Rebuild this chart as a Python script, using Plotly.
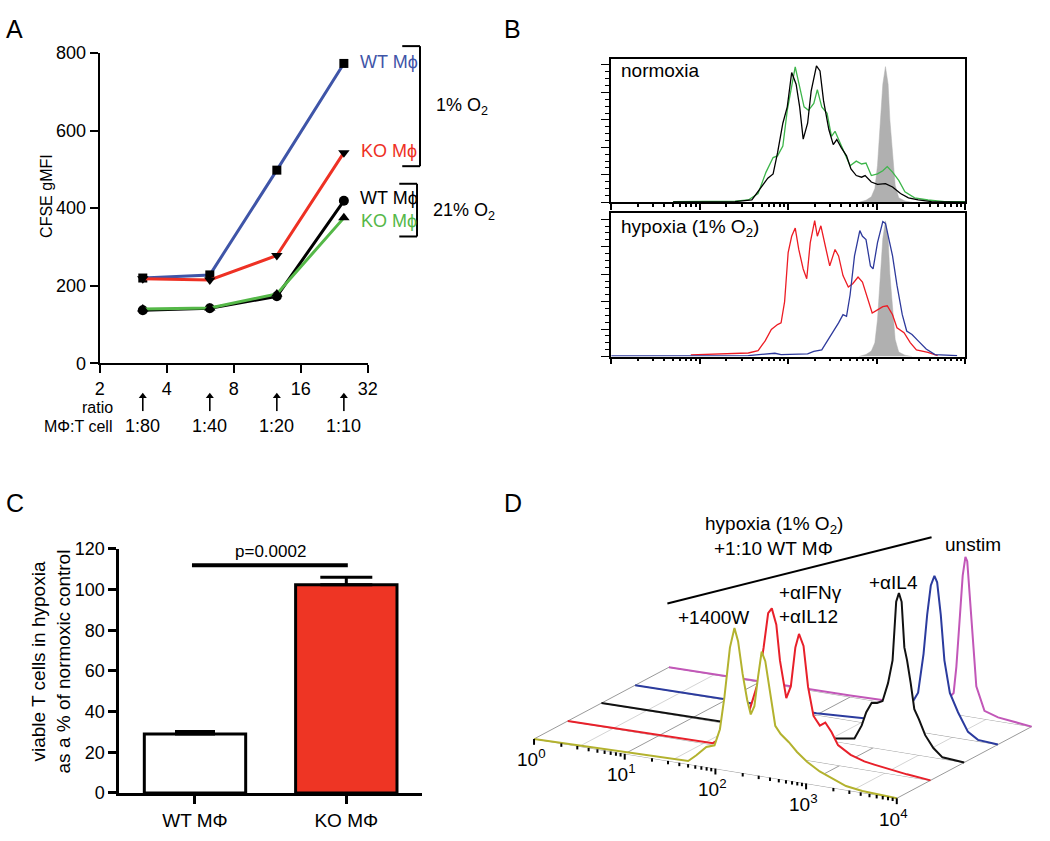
import numpy as np
import plotly.graph_objects as go

W, H = 1050, 841
FONT = "Arial, Liberation Sans, Helvetica, sans-serif"


def px(x):
    return x / W


def py(y):
    return 1 - y / H


# ---------------- Panel A data ----------------
a_ratio_x = [3.125, 6.25, 12.5, 25]
a_ratio_labels = ["1:80", "1:40", "1:20", "1:10"]
a_wt_hyp = [220, 228, 498, 773]
a_ko_hyp = [218, 215, 278, 543]
a_wt_norm = [137, 142, 173, 419]
a_ko_norm = [140, 143, 179, 375]
a_xticks = [2, 4, 8, 16, 32]
a_yticks = [0, 200, 400, 600, 800]

# ---------------- Panel B data (log10 fluorescence, % of max) ----------------
b_gray_x = [2.80, 2.88, 2.94, 2.98, 3.01, 3.04, 3.07, 3.10, 3.13, 3.15, 3.18, 3.21, 3.25, 3.32, 3.40]
b_gray_y = [0, 1.5, 4, 10, 27, 58, 86, 98.8, 86, 60, 34, 12.4, 3.3, 1, 0]

b_norm_black_x = [0.70, 1.40, 1.59, 1.70, 1.77, 1.83, 1.88, 1.94, 1.99, 2.04, 2.09, 2.13, 2.17, 2.22,
                  2.26, 2.32, 2.36, 2.40, 2.46, 2.51, 2.55, 2.60, 2.66, 2.71, 2.77, 2.83, 2.87, 2.94,
                  3.01, 3.10, 3.18, 3.27, 3.36, 3.47, 3.62, 4.0]
b_norm_black_y = [0.3, 0.5, 1.7, 11, 17.6, 20.7, 36, 57.6, 69.5, 94.5, 86, 69.5, 46, 57.6, 81, 99.3,
                  95.7, 74, 53, 42, 45.7, 39.8, 33.8, 24.3, 19.5, 18.3, 19.5, 14.8, 13, 13.6, 11.2,
                  6.4, 3.3, 1.7, 0.5, 0.2]

b_norm_green_x = [0.70, 1.40, 1.55, 1.66, 1.75, 1.83, 1.88, 1.94, 1.99, 2.04, 2.08, 2.12, 2.18, 2.23,
                  2.29, 2.33, 2.38, 2.44, 2.49, 2.53, 2.59, 2.64, 2.70, 2.77, 2.83, 2.88, 2.94, 3.01,
                  3.07, 3.12, 3.18, 3.25, 3.32, 3.43, 3.58, 3.77, 4.0]
b_norm_green_y = [0.4, 0.8, 1.7, 6.4, 22, 32.6, 33.8, 41, 67, 86, 98.6, 87, 69.5, 67, 72, 82, 69.5,
                  64.8, 48, 51.7, 43.3, 36, 26.7, 30, 27.9, 28.6, 19.5, 20.7, 23, 26, 22, 16, 7.6,
                  3.3, 1.7, 0.5, 0.4]

b_hyp_red_x = [0.90, 1.55, 1.66, 1.74, 1.81, 1.88, 1.92, 1.96, 2.00, 2.04, 2.08, 2.12, 2.17, 2.21,
               2.25, 2.30, 2.33, 2.37, 2.42, 2.47, 2.53, 2.57, 2.62, 2.68, 2.73, 2.79, 2.84, 2.90,
               2.95, 3.01, 3.07, 3.12, 3.18, 3.23, 3.31, 3.38, 3.45, 3.58, 3.69]
b_hyp_red_y = [1.2, 2.6, 4.3, 11.4, 19.8, 23.3, 24.5, 40, 75.7, 87.6, 93.6, 78, 63.8, 56.7, 82.9, 99,
               87.6, 95.2, 80.5, 66, 78, 73.3, 59, 50.7, 53, 57.9, 54.3, 42.4, 31.7, 34, 36.4, 37,
               30.5, 21, 17.4, 10.2, 4.8, 3.1, 0.7]

b_hyp_blue_x = [0.0, 1.55, 1.85, 1.92, 2.22, 2.29, 2.38, 2.47, 2.57, 2.62, 2.66, 2.70, 2.75, 2.81,
                2.84, 2.88, 2.93, 2.96, 3.01, 3.07, 3.10, 3.14, 3.18, 3.23, 3.29, 3.34, 3.40, 3.47,
                3.56, 3.66, 3.91]
b_hyp_blue_y = [0.5, 0.7, 2.4, 1.4, 1.9, 3.8, 4.8, 13.8, 24.5, 30.5, 29.3, 44.8, 73.3, 91.7, 87.6,
                85.2, 66, 63.8, 82.9, 98.3, 97, 85.2, 73.3, 52, 30.5, 18.6, 16, 11.4, 5.5, 1.4, 0.7]

# ---------------- Panel C data ----------------
c_categories = ["WT M\u03a6", "KO M\u03a6"]
c_values = [29, 102.4]
c_errors = [1.2, 3.6]
c_pvalue = "p=0.0002"
c_yticks = [0, 20, 40, 60, 80, 100, 120]

# ---------------- Panel D data (log10 fluorescence, relative count) ----------------
d_yellow_x = [0, 0.5, 1.0, 1.4, 1.70, 1.79, 1.90, 1.99, 2.05, 2.10, 2.16, 2.21, 2.25, 2.30, 2.35,
              2.39, 2.43, 2.47, 2.51, 2.55, 2.60, 2.66, 2.72, 2.81, 2.90, 3.01, 3.15, 3.30, 3.44,
              3.62, 4.0]
d_yellow_y = [0, 0.5, 1.0, 1.5, 2, 6.6, 12.9, 14.8, 25.7, 47, 79, 92, 84, 63.5, 47.4, 38.4, 44, 63,
              79.7, 74, 56, 33.7, 29, 24.6, 19.2, 14, 9.1, 5.4, 2.5, 1.1, 0]
d_red_x = [0, 1.0, 1.60, 1.75, 1.90, 2.00, 2.10, 2.16, 2.21, 2.25, 2.30, 2.34, 2.41, 2.46, 2.51,
           2.55, 2.60, 2.65, 2.71, 2.78, 2.84, 2.91, 2.98, 3.12, 3.27, 3.38, 3.74, 4.0]
d_red_y = [0, 0.5, 1.0, 8, 20, 25, 45, 67.6, 90, 93.5, 83.5, 61, 37.6, 45.5, 71, 80, 72.8, 47, 29,
           23.5, 26, 20.5, 12.9, 8, 5.2, 4.2, 1.4, 0]
d_black_x = [0, 1.0, 2.0, 2.58, 2.79, 2.87, 2.92, 2.98, 3.04, 3.10, 3.16, 3.21, 3.23, 3.25, 3.28,
             3.31, 3.34, 3.37, 3.41, 3.45, 3.50, 3.57, 3.66, 3.76, 4.0]
d_black_y = [0, 0.5, 1.0, 1.9, 3.9, 13, 21.9, 28.6, 29, 30.8, 42.8, 57.8, 74.7, 95.8, 101.6, 96.3,
             67.4, 59.4, 45.2, 28.9, 23, 13.4, 6, 1, 0]
d_blue_x = [0, 1.0, 2.0, 2.6, 2.8, 2.95, 3.07, 3.12, 3.18, 3.22, 3.26, 3.30, 3.33, 3.37, 3.41, 3.47,
            3.56, 3.67, 3.78, 4.0]
d_blue_y = [0, 0.5, 1.0, 3, 6, 12, 19.5, 24.8, 50.3, 75.7, 94.8, 101.4, 97.5, 77, 48.3, 28, 16.5,
            5, 0.9, 0]
d_magenta_x = [0, 1.0, 2.0, 2.8, 3.02, 3.14, 3.17, 3.21, 3.24, 3.27, 3.29, 3.32, 3.36, 3.39, 3.48,
               3.63, 4.0]
d_magenta_y = [0, 0.5, 1, 2, 5, 13.4, 30.4, 64, 89.4, 101.7, 99.2, 75.5, 44.6, 20, 5.2, 2.4, 0]
d_tick_labels = ["10<sup>0</sup>", "10<sup>1</sup>", "10<sup>2</sup>", "10<sup>3</sup>", "10<sup>4</sup>"]

# ---------------- colours ----------------
BLUE_A = "#3f55a8"
RED_A = "#ee3124"
GREEN_A = "#55b848"
GRAY_FILL = "#b0b0b0"

fig = go.Figure()

# ======================= Panel A =======================
series_a = [
    (a_wt_hyp, BLUE_A, "square", 9),
    (a_ko_hyp, RED_A, "triangle-down", 10),
    (a_wt_norm, "black", "circle", 10),
    (a_ko_norm, GREEN_A, "triangle-up", 10),
]
for vals, col, sym, sz in series_a:
    fig.add_trace(go.Scatter(x=a_ratio_x, y=vals, mode="lines+markers", xaxis="x", yaxis="y",
                             line=dict(color=col, width=3),
                             marker=dict(symbol=sym, size=sz, color="black"),
                             showlegend=False, cliponaxis=False))

# ratio arrows under the x axis (own small hidden y axis)
arr_x, arr_y = [], []
for xv in a_ratio_x:
    arr_x += [xv, xv, None]
    arr_y += [0, 0.85, None]
fig.add_trace(go.Scatter(x=arr_x, y=arr_y, mode="lines", xaxis="x", yaxis="y6",
                         line=dict(color="black", width=1.6), showlegend=False,
                         hoverinfo="skip", cliponaxis=False))
fig.add_trace(go.Scatter(x=a_ratio_x, y=[0.85] * len(a_ratio_x), mode="markers", xaxis="x",
                         yaxis="y6", marker=dict(symbol="triangle-up", size=7, color="black"),
                         showlegend=False, hoverinfo="skip", cliponaxis=False))

# ======================= Panel B =======================
def b_trace(x, y, color, xa, ya, fill=False):
    if fill:
        return go.Scatter(x=x, y=y, mode="lines", xaxis=xa, yaxis=ya, fill="tozeroy",
                          fillcolor=GRAY_FILL, line=dict(color=GRAY_FILL, width=0.5),
                          showlegend=False)
    return go.Scatter(x=x, y=y, mode="lines", xaxis=xa, yaxis=ya,
                      line=dict(color=color, width=1.3), showlegend=False)


fig.add_trace(b_trace(b_gray_x, b_gray_y, None, "x2", "y2", fill=True))
fig.add_trace(b_trace(b_norm_green_x, b_norm_green_y, "#3db54a", "x2", "y2"))
fig.add_trace(b_trace(b_norm_black_x, b_norm_black_y, "black", "x2", "y2"))
fig.add_trace(b_trace(b_gray_x, b_gray_y, None, "x3", "y3", fill=True))
fig.add_trace(b_trace(b_hyp_red_x, b_hyp_red_y, "#ed1c24", "x3", "y3"))
fig.add_trace(b_trace(b_hyp_blue_x, b_hyp_blue_y, "#2e3a9c", "x3", "y3"))

# ======================= Panel C =======================
c_fill = ["white", "#ee3524"]
c_capw = [20, 26]
for i in range(2):
    fig.add_trace(go.Bar(x=[i], y=[c_values[i]], width=0.67, xaxis="x4", yaxis="y4",
                         marker=dict(color=c_fill[i], line=dict(color="black", width=3)),
                         error_y=dict(type="data", symmetric=False, array=[c_errors[i]],
                                      arrayminus=[0], color="black", thickness=3,
                                      width=c_capw[i]),
                         showlegend=False))

# ======================= Panel D =======================
D_X0, D_Y0 = 536.7, 746.7      # screen position of front-row origin
D_DEC = (92.0, 15.2)           # screen offset per decade
D_ROW = (34.2, -18.35)         # screen offset per row (depth)
D_HS = 1.6                     # pixels per count unit


def proj(d, h, r):
    d = np.asarray(d, dtype=float)
    h = np.asarray(h, dtype=float)
    X = D_X0 + D_DEC[0] * d + D_ROW[0] * r
    Ys = D_Y0 + D_DEC[1] * d + D_ROW[1] * r - D_HS * h
    return X, H - Ys


# floor grid
gx_dark, gy_dark, gx_light, gy_light = [], [], [], []
for k in range(9):
    dd = k * 0.5
    x0, y0 = proj([dd], [0], 0)
    x1, y1 = proj([dd], [0], 4)
    if k % 2 == 0:
        gx_dark += [x0[0], x1[0], None]
        gy_dark += [y0[0], y1[0], None]
    else:
        gx_light += [x0[0], x1[0], None]
        gy_light += [y0[0], y1[0], None]
for r in range(5):
    xs, ys = proj([0, 4], [0, 0], r)
    gx_dark += [xs[0], xs[1], None]
    gy_dark += [ys[0], ys[1], None]
fig.add_trace(go.Scatter(x=gx_light, y=gy_light, mode="lines", xaxis="x5", yaxis="y5",
                         line=dict(color="#d4d4d4", width=1), showlegend=False, hoverinfo="skip"))
fig.add_trace(go.Scatter(x=gx_dark, y=gy_dark, mode="lines", xaxis="x5", yaxis="y5",
                         line=dict(color="#9a9a9a", width=1), showlegend=False, hoverinfo="skip"))

d_series = [
    (d_magenta_x, d_magenta_y, "#c257b8", 4),
    (d_blue_x, d_blue_y, "#2b3b9e", 3),
    (d_black_x, d_black_y, "#111111", 2),
    (d_red_x, d_red_y, "#e8202a", 1),
    (d_yellow_x, d_yellow_y, "#b3b22e", 0),
]
for dx, dy, col, r in d_series:
    X, Y = proj(dx, dy, r)
    fig.add_trace(go.Scatter(x=X, y=Y, mode="lines", xaxis="x5", yaxis="y5", fill="toself",
                             fillcolor="white", line=dict(color=col, width=2),
                             showlegend=False))

# front axis ticks
tx, ty = [], []
for n in range(5):
    X, Y = proj([n], [0], 0)
    tx += [X[0], X[0], None]
    ty += [Y[0], Y[0] - 6, None]
    if n < 4:
        for k in range(2, 10):
            X, Y = proj([n + np.log10(k)], [0], 0)
            tx += [X[0], X[0], None]
            ty += [Y[0], Y[0] - 3.5, None]
fig.add_trace(go.Scatter(x=tx, y=ty, mode="lines", xaxis="x5", yaxis="y5",
                         line=dict(color="black", width=2), showlegend=False, hoverinfo="skip"))

# ======================= Layout =======================
annotations = []


def ann(text, x, y, size=18, color="black", xanchor="center", yanchor="middle", angle=0):
    annotations.append(dict(text=text, x=px(x), y=py(y), xref="paper", yref="paper",
                            showarrow=False, xanchor=xanchor, yanchor=yanchor, textangle=angle,
                            font=dict(family=FONT, size=size, color=color)))


# panel letters
ann("A", 10, 19, size=25)
ann("B", 515, 19, size=25)
ann("C", 10, 505, size=25)
ann("D", 515, 505, size=25)

# panel A labels
ann("CFSE gMFI", 42, 190, size=16, angle=-90)
ann("WT M\u03d5", 358, 53, color=BLUE_A, xanchor="left")
ann("KO M\u03d5", 359, 144, color=RED_A, xanchor="left")
ann("WT M\u03d5", 358, 193, color="black", xanchor="left")
ann("KO M\u03d5", 359, 216, color=GREEN_A, xanchor="left")
ann("1% O<sub>2</sub>", 464, 99, size=18)
ann("21% O<sub>2</sub>", 466, 206, size=18)
ann("ratio", 94, 407, size=16)
ann("M\u03a6:T cell", 74, 427, size=16)
for xv, lab in zip(a_ratio_x, a_ratio_labels):
    annotations.append(dict(text=lab, x=np.log10(xv), y=py(426), xref="x", yref="paper",
                            showarrow=False, font=dict(family=FONT, size=18, color="black")))

# panel B labels
ann("normoxia", 623, 62, size=19, xanchor="left")
ann("hypoxia (1% O<sub>2</sub>)", 623, 223, size=19, xanchor="left")

# panel C labels
ann("viable T cells in hypoxia<br>as a % of normoxic control", 47, 667, size=19, angle=-90)
annotations.append(dict(text=c_pvalue, x=0.5, y=112.5, xref="x4", yref="y4", showarrow=False,
                        yanchor="bottom", yshift=1,
                        font=dict(family=FONT, size=17, color="black")))

# panel D labels
ann("hypoxia (1% O<sub>2</sub>)", 780, 528, size=19)
ann("+1:10 WT M\u03a6", 780, 552, size=19)
ann("unstim", 982, 548, size=19)
ann("+\u03b1IL4", 901, 586, size=19)
ann("+\u03b1IFN\u03b3", 783, 597, size=19, xanchor="left")
ann("+\u03b1IL12", 783, 621, size=19, xanchor="left")
ann("+1400W", 719, 622, size=19)
for n, lab in enumerate(d_tick_labels):
    X, Y = proj([n], [0], 0)
    annotations.append(dict(text=lab, x=X[0] - 3, y=Y[0] - 20, xref="x5", yref="y5",
                            showarrow=False, font=dict(family=FONT, size=19, color="black")))

shapes = []


def seg(x0, y0, x1, y1, w=2, color="black"):
    shapes.append(dict(type="line", xref="paper", yref="paper", x0=px(x0), y0=py(y0),
                       x1=px(x1), y1=py(y1), line=dict(color=color, width=w)))


# panel A brackets
seg(403, 37, 421, 37)
seg(421, 37, 421, 160)
seg(403, 160, 421, 160)
seg(400, 178, 418, 178)
seg(418, 178, 418, 232)
seg(400, 232, 418, 232)
# panel C significance bar
shapes.append(dict(type="line", xref="x4", yref="y4", x0=-0.02, x1=1.01, y0=112, y1=112,
                   line=dict(color="black", width=4)))
# panel D header line
seg(672, 608, 940, 540, w=2)

axis_common = dict(showgrid=False, zeroline=False, linecolor="black", ticks="outside",
                   tickcolor="black", tickfont=dict(family=FONT, size=18, color="black"))

b_minor_x = [n + np.log10(k) for n in range(4) for k in range(2, 10)]
b_minor_y = [v for v in range(5, 105, 5) if v % 20 != 0]

fig.update_layout(
    width=W, height=H, autosize=False,
    margin=dict(l=0, r=0, t=0, b=0),
    paper_bgcolor="white", plot_bgcolor="white",
    showlegend=False,
    font=dict(family=FONT, color="black"),
    xaxis=dict(axis_common, domain=[px(96), px(368)], type="log",
               range=[np.log10(2), np.log10(32)], tickvals=a_xticks,
               ticktext=[str(v) for v in a_xticks], showline=True, linewidth=2, ticklen=8,
               tickwidth=2, anchor="y"),
    yaxis=dict(axis_common, domain=[py(362), py(44)], range=[0, 800], tickvals=a_yticks,
               showline=True, linewidth=2, ticklen=8, tickwidth=2, anchor="x"),
    yaxis6=dict(domain=[py(411), py(393)], range=[0, 1], visible=False, anchor="x"),
    xaxis2=dict(axis_common, domain=[px(615), px(974)], range=[0, 4], tickvals=[0, 1, 2, 3, 4],
                showticklabels=False, showline=True, mirror=True, linewidth=1.5, ticklen=6,
                tickwidth=1.5, anchor="y2",
                minor=dict(tickvals=b_minor_x, ticks="outside", ticklen=3, tickcolor="black",
                           tickwidth=1.5)),
    yaxis2=dict(axis_common, domain=[py(197), py(50)], range=[0, 104.5],
                tickvals=[0, 20, 40, 60, 80, 100], showticklabels=False, showline=True,
                mirror=True, linewidth=1.5, ticklen=8, tickwidth=1, anchor="x2",
                minor=dict(tickvals=b_minor_y, ticks="outside", ticklen=4, tickcolor="black",
                           tickwidth=1)),
    xaxis3=dict(axis_common, domain=[px(615), px(974)], range=[0, 4], tickvals=[0, 1, 2, 3, 4],
                showticklabels=False, showline=True, mirror=True, linewidth=1.5, ticklen=6,
                tickwidth=1.5, anchor="y3",
                minor=dict(tickvals=b_minor_x, ticks="outside", ticklen=3, tickcolor="black",
                           tickwidth=1.5)),
    yaxis3=dict(axis_common, domain=[py(355), py(208)], range=[0, 104.5],
                tickvals=[0, 20, 40, 60, 80, 100], showticklabels=False, showline=True,
                mirror=True, linewidth=1.5, ticklen=8, tickwidth=1, anchor="x3",
                minor=dict(tickvals=b_minor_y, ticks="outside", ticklen=4, tickcolor="black",
                           tickwidth=1)),
    xaxis4=dict(axis_common, domain=[px(116), px(423)], range=[-0.5, 1.5], tickvals=[0, 1],
                ticktext=c_categories, showline=True, linewidth=3, ticklen=8, tickwidth=3,
                tickfont=dict(family=FONT, size=19, color="black"), anchor="y4"),
    yaxis4=dict(axis_common, domain=[py(802), py(552)], range=[0, 120], tickvals=c_yticks,
                showline=True, linewidth=3, ticklen=8, tickwidth=3, anchor="x4"),
    xaxis5=dict(domain=[px(500), 1.0], range=[500, 1050], visible=False, anchor="y5"),
    yaxis5=dict(domain=[0.0, py(420)], range=[0, H - 420], visible=False, anchor="x5"),
    annotations=annotations,
    shapes=shapes,
)

fig.write_html("out.html", config={"displayModeBar": False},
               post_script="document.body.style.margin='0px';document.body.style.overflow='hidden';")
